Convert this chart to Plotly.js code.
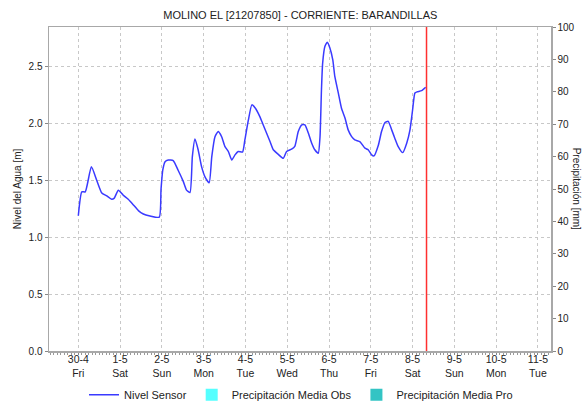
<!DOCTYPE html>
<html>
<head>
<meta charset="utf-8">
<script src="https://cdn.plot.ly/plotly-3.0.1.min.js"></script>
<style>html,body{margin:0;padding:0;background:#fff;}#chart{width:582px;height:402px;}</style>
</head>
<body>
<div id="chart"></div>
<script>
// Nivel Sensor (water level, m)
const times = [
 "2021-04-30 00:00","2021-04-30 02:00","2021-04-30 04:00","2021-04-30 07:30","2021-04-30 10:30","2021-04-30 13:30","2021-04-30 16:20","2021-04-30 19:10","2021-04-30 20:40","2021-04-30 23:00",
 "2021-05-01 01:50","2021-05-01 04:40","2021-05-01 07:40","2021-05-01 10:30","2021-05-01 13:20","2021-05-01 17:10","2021-05-01 22:30","2021-05-01 23:30",
 "2021-05-02 00:30","2021-05-02 01:50","2021-05-02 03:40","2021-05-02 06:30","2021-05-02 09:20","2021-05-02 12:20","2021-05-02 14:10","2021-05-02 16:10","2021-05-02 17:30","2021-05-02 19:00","2021-05-02 20:50","2021-05-02 22:50",
 "2021-05-03 00:50","2021-05-03 03:10","2021-05-03 04:40","2021-05-03 06:30","2021-05-03 08:20","2021-05-03 10:20","2021-05-03 12:10","2021-05-03 14:10","2021-05-03 16:10","2021-05-03 18:00","2021-05-03 19:50","2021-05-03 22:20","2021-05-03 23:40",
 "2021-05-04 01:40","2021-05-04 03:40","2021-05-04 05:30","2021-05-04 08:20","2021-05-04 10:10","2021-05-04 12:10","2021-05-04 14:10","2021-05-04 16:00","2021-05-04 18:50","2021-05-04 21:40","2021-05-04 23:40",
 "2021-05-05 02:30","2021-05-05 04:20","2021-05-05 06:20","2021-05-05 08:20","2021-05-05 10:10","2021-05-05 12:10","2021-05-05 14:00","2021-05-05 15:50","2021-05-05 17:50","2021-05-05 18:50","2021-05-05 19:40","2021-05-05 20:20","2021-05-05 21:40","2021-05-05 23:00",
 "2021-05-06 00:30","2021-05-06 02:10","2021-05-06 03:20","2021-05-06 05:20","2021-05-06 07:10","2021-05-06 09:10","2021-05-06 11:00","2021-05-06 13:00","2021-05-06 14:50","2021-05-06 17:50","2021-05-06 20:40","2021-05-06 22:30",
 "2021-05-07 00:30","2021-05-07 01:50","2021-05-07 04:20","2021-05-07 06:10","2021-05-07 08:10","2021-05-07 10:00","2021-05-07 12:00","2021-05-07 13:50","2021-05-07 15:40","2021-05-07 18:20","2021-05-07 20:40","2021-05-07 22:30",
 "2021-05-08 00:00","2021-05-08 01:20","2021-05-08 02:40","2021-05-08 05:10","2021-05-08 07:30"
];
const nivel = [
 1.19,1.40,1.40,1.62,1.505,1.39,1.365,1.335,1.345,1.415,
 1.37,1.335,1.285,1.235,1.205,1.188,1.177,1.42,
 1.59,1.665,1.68,1.675,1.59,1.49,1.415,1.394,1.71,1.865,1.77,1.62,
 1.53,1.48,1.71,1.885,1.93,1.885,1.80,1.755,1.68,1.725,1.755,1.75,1.857,
 2.03,2.165,2.14,2.06,1.99,1.915,1.84,1.77,1.73,1.695,1.755,
 1.775,1.80,1.93,1.99,1.99,1.915,1.83,1.77,1.74,1.885,2.30,2.53,2.68,2.715,
 2.665,2.56,2.415,2.27,2.135,2.05,1.945,1.886,1.857,1.84,1.784,1.77,
 1.725,1.716,1.81,1.93,2.01,2.02,1.945,1.87,1.80,1.745,1.83,1.945,
 2.12,2.27,2.28,2.29,2.32
];
// Precipitation (mm) – none recorded in the period
const precipDays = ["2021-04-30","2021-05-01","2021-05-02","2021-05-03","2021-05-04","2021-05-05","2021-05-06","2021-05-07","2021-05-08"];
const precipObs = [0,0,0,0,0,0,0,0,0];
const precipPro = [0,0,0,0,0,0,0,0,0];
// X tick labels
const tickDates = ["2021-04-30","2021-05-01","2021-05-02","2021-05-03","2021-05-04","2021-05-05","2021-05-06","2021-05-07","2021-05-08","2021-05-09","2021-05-10","2021-05-11"];
const tickLabels = ["30-4<br>Fri","1-5<br>Sat","2-5<br>Sun","3-5<br>Mon","4-5<br>Tue","5-5<br>Wed","6-5<br>Thu","7-5<br>Fri","8-5<br>Sat","9-5<br>Sun","10-5<br>Mon","11-5<br>Tue"];
const currentTime = "2021-05-08 08:00";

const font = {family: "Liberation Sans, Arial, sans-serif", size: 10, color: "#222"};
const traces = [
  {x: times, y: nivel, type: "scatter", mode: "lines", name: "Nivel Sensor",
   line: {color: "#3a3aff", width: 1.5, shape: "spline", smoothing: 0.5}},
  {x: precipDays, y: precipObs, type: "bar", name: "Precipitación Media Obs", yaxis: "y2",
   marker: {color: "#55ffff"}},
  {x: precipDays, y: precipPro, type: "bar", name: "Precipitación Media Pro", yaxis: "y2",
   marker: {color: "#33c4c4"}}
];
const layout = {
  width: 582, height: 402,
  margin: {l: 49, r: 31, t: 27, b: 51, autoexpand: false},
  paper_bgcolor: "#fff", plot_bgcolor: "#fff",
  font: font,
  title: {text: "MOLINO EL [21207850] - CORRIENTE: BARANDILLAS", font: {family: font.family, size: 11, color: "#222"}, x: 0.516, xanchor: "center", y: 0.962, yanchor: "middle"},
  showlegend: true,
  legend: {orientation: "h", x: 0.502, xanchor: "center", y: -0.135, yanchor: "middle",
           font: {family: font.family, size: 11, color: "#222"}, itemwidth: 30, tracegroupgap: 0},
  xaxis: {type: "date", range: ["2021-04-29 07:10", "2021-05-11 07:30"],
          tickmode: "array", tickvals: tickDates, ticktext: tickLabels,
          showgrid: true, gridcolor: "#c8c8c8", griddash: "dot", gridwidth: 1,
          showline: true, linecolor: "#a8a8a8", linewidth: 1.5, mirror: true,
          ticks: "outside", ticklen: 2, tickcolor: "#888", ticklabelstandoff: -4,
          minor: {dtick: 7200000, ticks: "outside", ticklen: 2, tickcolor: "#999", showgrid: false},
          tickfont: {family: font.family, size: 10.5, color: "#222"}, zeroline: false, fixedrange: true},
  yaxis: {range: [0, 2.85], tickvals: [0, 0.5, 1.0, 1.5, 2.0, 2.5], tickformat: ".1f",
          showgrid: true, gridcolor: "#c8c8c8", griddash: "dot", gridwidth: 1,
          showline: true, linecolor: "#a8a8a8", linewidth: 1.5,
          ticks: "outside", ticklen: 3, tickcolor: "#888", zeroline: false,
          title: {text: "Nivel del Agua [m]", font: {family: font.family, size: 10, color: "#222"}, standoff: 5},
          tickfont: {family: font.family, size: 10, color: "#222"}},
  yaxis2: {overlaying: "y", side: "right", range: [0, 100], dtick: 10,
           showgrid: false, showline: true, linecolor: "#a8a8a8", linewidth: 1.5,
           ticks: "outside", ticklen: 3, tickcolor: "#888", zeroline: false,
           tickfont: {family: font.family, size: 10, color: "#222"}},
  annotations: [{text: "Precipitación [mm]", xref: "paper", yref: "paper", x: 1.0525, y: 0.5,
                 xanchor: "center", yanchor: "middle", textangle: 90, showarrow: false,
                 font: {family: font.family, size: 10, color: "#222"}}],
  shapes: [{type: "line", xref: "x", yref: "paper", x0: currentTime, x1: currentTime, y0: 0, y1: 1,
            line: {color: "#ff3030", width: 1.5}}]
};
Plotly.newPlot("chart", traces, layout, {displayModeBar: false, staticPlot: true});
</script>
</body>
</html>
